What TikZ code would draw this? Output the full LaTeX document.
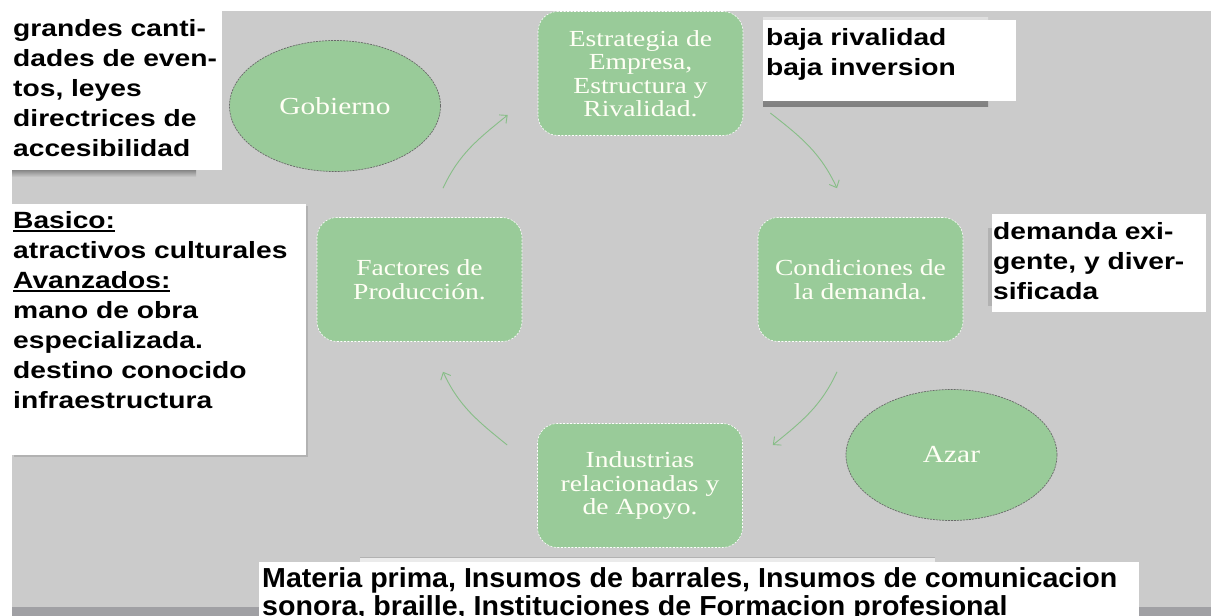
\documentclass[tikz,border=0pt]{standalone}
\usepackage{fontspec}
\usetikzlibrary{arrows.meta,shapes.geometric}
\newfontfamily\sidefont[FakeStretch=1.2]{Liberation Sans}
\newfontfamily\botfont[FakeStretch=1.04]{Liberation Sans}
\newfontfamily\boxfont[FakeStretch=1.2]{Liberation Serif}
\definecolor{bg}{RGB}{203,203,203}
\definecolor{strip}{RGB}{160,160,164}
\definecolor{leaf}{RGB}{153,203,153}
\definecolor{arrowgreen}{RGB}{135,190,135}
\definecolor{rim}{RGB}{105,105,105}
\definecolor{cream}{RGB}{255,255,245}
\newsavebox\ulbox
\newcommand\ulword[1]{\sbox\ulbox{#1}\rlap{\rule[-3.5pt]{\wd\ulbox}{1.8pt}}\usebox\ulbox}
\begin{document}
\begin{tikzpicture}[x=1pt,y=1pt,
  stage/.style={draw=white, line width=0.6pt, dash pattern=on 2pt off 1.5pt, fill=leaf,
    rounded corners=20pt, minimum width=205pt, minimum height=124pt, inner sep=0pt,
    align=center, text=cream, font=\boxfont\fontsize{23}{23.5}\selectfont},
  blob/.style={ellipse, draw=rim, line width=0.7pt, dash pattern=on 2pt off 1pt, fill=leaf,
    minimum width=211pt, minimum height=131pt, inner sep=0pt, text=cream,
    font=\boxfont\fontsize{24.5}{26}\selectfont},
  note/.style={anchor=north west, inner sep=0pt, align=left,
    font=\sidefont\bfseries\fontsize{23.5}{30}\selectfont},
  botnote/.style={anchor=north west, inner sep=0pt, align=left,
    font=\botfont\bfseries\fontsize{27.5}{28}\selectfont},
  flow/.style={draw=arrowgreen, line width=0.9pt, -{Straight Barb[length=6pt,width=11pt]}},
]
\useasboundingbox (0,0) rectangle (1211,-616);
\clip (0,0) rectangle (1211,-616);
\fill[white] (0,0) rectangle (1211,-616);
\fill[bg] (12,-11) rectangle (1211,-607);
\fill[strip] (12,-607) rectangle (1211,-616);

% stage boxes
\node[stage] (est) at (640.5,-73.5) {Estrategia de\\Empresa,\\Estructura y\\Rivalidad.};
\node[stage] (cond) at (860.5,-279.5) {Condiciones de\\la demanda.};
\node[stage] (fac) at (419.5,-279.5) {Factores de\\Producción.};
\node[stage] (ind) at (640,-485.5) {Industrias\\relacionadas y\\de Apoyo.};

% ellipses
\node[blob] (gob) at (335,-106) {Gobierno};
\node[blob] (azar) at (951.5,-455) {Azar};

% cycle arrows
\draw[flow] ([shift={(23.5,29)}]fac.north) to[out=65,in=219] ([shift={(-30,-41.5)}]est.west);
\draw[flow] ([shift={(27,-39.5)}]est.east) to[out=-38,in=115] ([shift={(-23.5,29)}]cond.north);
\draw[flow] ([shift={(-23.5,-30)}]cond.south) to[out=-115,in=39] ([shift={(30,40.5)}]ind.east);
\draw[flow] ([shift={(-30,40.5)}]ind.west) to[out=141,in=-65] ([shift={(23.5,-30)}]fac.south);

% top-left note
\shade[top color=black!55, bottom color=bg] (12,-168) rectangle (196,-177);
\fill[white] (12,-11) rectangle (222,-170);
\node[note] (gobnote) at (13,-19) {grandes canti-\\dades de even-\\tos, leyes\\directrices de\\accesibilidad};

% left note
\fill[black!30] (14,-206) rectangle (307.5,-456.5);
\fill[white] (12,-204) rectangle (306,-455);
\node[note] (facnote) at (13,-211) {\ulword{Basico:}\\atractivos culturales\\\ulword{Avanzados:}\\mano de obra\\especializada.\\destino conocido\\infraestructura};

% top-right note
\shade[top color=black!12, bottom color=black!50] (763,-17) rectangle (988,-106);
\fill[white] (763,-20) rectangle (1016,-101);
\node[note] (estnote) at (766,-28) {baja rivalidad\\baja inversion};

% right note
\fill[black!30] (987.5,-228) rectangle (993,-306);
\fill[white] (992,-214) rectangle (1206,-312);
\node[note] (condnote) at (993,-222) {demanda exi-\\gente, y diver-\\sificada};

% bottom note
\fill[black!8] (360,-557) rectangle (935,-563);
\draw[black!30, line width=0.5pt] (360,-557) -- (935,-557);
\fill[white] (259,-562) rectangle (1139,-616);
\node[botnote] (indnote) at (262,-567) {Materia prima, Insumos de barrales, Insumos de comunicacion\\sonora, braille, Instituciones de Formacion profesional};
\end{tikzpicture}
\end{document}
